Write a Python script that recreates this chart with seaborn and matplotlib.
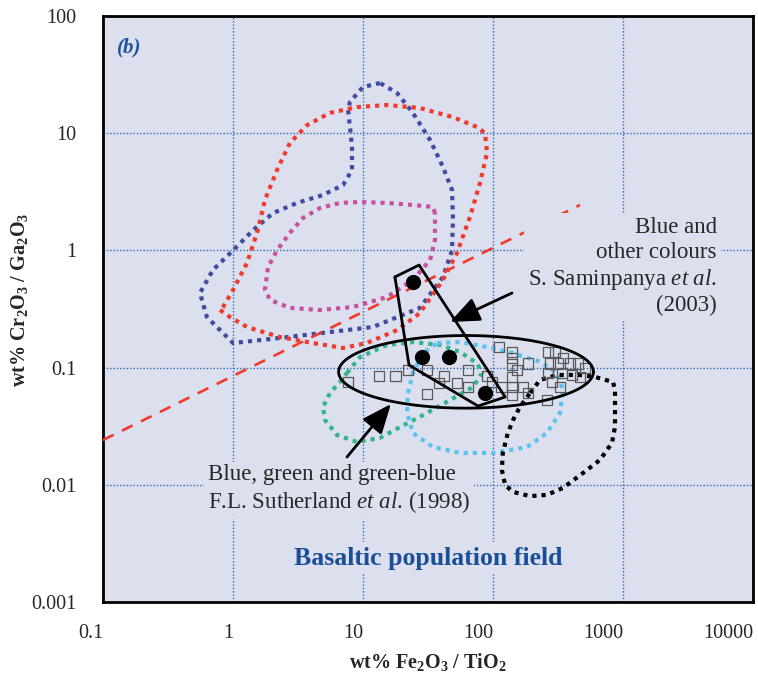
import numpy as np
import pandas as pd
import matplotlib
matplotlib.use("Agg")
import matplotlib.pyplot as plt
import seaborn as sns

# ---------------- data ----------------
x_ticks = [0.1, 1, 10, 100, 1000, 10000]
x_tick_labels = ["0.1", "1", "10", "100", "1000", "10000"]
y_ticks = [0.001, 0.01, 0.1, 1, 10, 100]
y_tick_labels = ["0.001", "0.01", "0.1", "1", "10", "100"]

blue_x = [13.5, 10, 7.94, 7.67, 7.94, 8.23, 8.23, 7.02, 4.92, 3.11, 2.03, 1.43, 1.0, 0.70,
          0.557, 0.63, 1.0, 2.30, 5.57, 11.9, 27.4, 41.2, 48.4, 49.2, 48.4, 41.2, 32.8, 24.2, 18.3]
blue_y = [26.8, 24.8, 18.5, 15.8, 11.3, 7.62, 4.85, 3.61, 2.97, 2.54, 2.08, 1.49, 1.0, 0.68,
          0.433, 0.27, 0.162, 0.179, 0.201, 0.222, 0.323, 0.593, 1.0, 1.82, 3.27, 5.15, 8.75, 14.9, 22.0]

red_x = [0.794, 0.948, 1.28, 2.30, 4.12, 7.02, 10.7, 18.3, 27.4, 41.2, 52.8, 66.5, 79.4, 89.9,
         86.8, 75.3, 49.2, 27.4, 15.3, 8.99, 5.57, 3.71, 2.74, 2.18, 1.76, 1.53, 1.28, 1.0, 0.838]
red_y = [0.310, 0.270, 0.222, 0.182, 0.162, 0.147, 0.162, 0.209, 0.292, 0.559, 0.95, 1.93, 3.76, 6.78,
         10.0, 11.3, 13.7, 16.4, 17.4, 16.7, 14.9, 11.7, 8.25, 4.85, 2.69, 1.41, 0.780, 0.459, 0.329]

pink_x = [35.8, 34.5, 24.2, 15.3, 9.48, 6.65, 4.67, 3.45, 2.74, 2.18, 1.86, 1.76, 1.93, 2.74,
          4.67, 8.38, 15.3, 24.2, 32.8, 35.8]
pink_y = [2.08, 2.35, 2.44, 2.54, 2.59, 2.54, 2.30, 1.89, 1.41, 1.0, 0.722, 0.459, 0.378, 0.323,
          0.310, 0.329, 0.400, 0.559, 0.828, 1.23]

green_x = [7.53, 9.48, 15.3, 24.2, 39.1, 55.7, 75.3, 82.3, 70.2, 46.7, 31.1, 19.3, 13.5, 8.99,
           6.31, 5.10, 4.92, 5.57, 6.65]
green_y = [0.090, 0.123, 0.156, 0.165, 0.156, 0.136, 0.109, 0.090, 0.0683, 0.0529, 0.0410, 0.0311,
           0.0251, 0.0232, 0.0266, 0.0357, 0.0461, 0.0607, 0.0753]

lightblue_x = [37.1, 55.7, 89.9, 142.6, 230, 310, 345, 328, 260, 182.7, 100, 55.7, 34.5, 24.2,
               21.8, 22.2, 24.2, 29.0]
lightblue_y = [0.162, 0.165, 0.150, 0.133, 0.112, 0.090, 0.0644, 0.0410, 0.0277, 0.0210, 0.0187,
               0.0187, 0.0210, 0.0277, 0.0410, 0.0607, 0.090, 0.133]

black_x = [193, 230, 310, 467, 609, 838, 868, 868, 868, 823, 665, 492, 345, 260, 193, 142.6,
           124, 117, 119, 130, 142.6, 161]
black_y = [0.0607, 0.0784, 0.0865, 0.0865, 0.0832, 0.0753, 0.0644, 0.0461, 0.0311, 0.0228, 0.0163,
           0.0126, 0.0094, 0.0082, 0.0080, 0.0087, 0.00995, 0.0134, 0.0187, 0.0277, 0.0357, 0.0461]

dashed_x = [0.1, 467]
dashed_y = [0.0241, 2.44]

polygon_x = [17.6, 27.0, 124, 76.7, 22.6]
polygon_y = [0.593, 0.750, 0.0561, 0.047, 0.105]

dots_x = [24.2, 28.4, 45.9, 86.8]
dots_y = [0.537, 0.123, 0.123, 0.0607]

squares_x = [7.67, 13.3, 17.9, 22.2, 31.1, 31.1, 38.4, 42.0, 52.8, 64.2, 64.2, 89.9, 98.2, 111,
             117, 140, 140, 140, 153, 140, 140, 140, 170, 186, 186, 265, 300, 345, 274, 316,
             391, 451, 510, 265, 340, 405, 284, 328, 260, 467]
squares_y = [0.0753, 0.0848, 0.0848, 0.0955, 0.0955, 0.0596, 0.0739, 0.0848, 0.0739, 0.0955,
             0.0683, 0.0848, 0.0753, 0.150, 0.0683, 0.136, 0.121, 0.107, 0.0955, 0.0832, 0.0683,
             0.0584, 0.0683, 0.109, 0.0607, 0.136, 0.136, 0.121, 0.109, 0.109, 0.109, 0.109,
             0.0993, 0.090, 0.090, 0.0865, 0.0753, 0.0683, 0.0529, 0.0832]

# Sutherland field ellipse (centre, half-axes in decades)
ellipse_cx, ellipse_cy = 62, 0.092
ellipse_ax_dec, ellipse_ay_dec = 0.98, 0.31

arrow1_tail, arrow1_tip = (140, 0.433), (46.7, 0.245)
arrow2_tail, arrow2_tip = (7.53, 0.01726), (16.4, 0.0489)

# ---------------- style ----------------
sns.set_style("white")
plt.rcParams['font.family'] = ['Liberation Serif', 'DejaVu Serif']
plt.rcParams['mathtext.fontset'] = 'custom'
plt.rcParams['mathtext.rm'] = 'Liberation Serif'
plt.rcParams['mathtext.it'] = 'Liberation Serif:italic'
plt.rcParams['mathtext.bf'] = 'Liberation Serif:bold'

BG = '#dcdfee'
GRID = '#2f68b8'

fig = plt.figure(figsize=(7.58, 6.8), dpi=100)
ax = fig.add_axes([0.1359, 0.1147, 0.8575, 0.8618])
ax.set_facecolor(BG)
ax.set_xscale('log')
ax.set_yscale('log')
ax.set_xlim(0.1, 10000)
ax.set_ylim(0.001, 100)


def closed(xs, ys):
    return pd.DataFrame({'x': list(xs) + [xs[0]], 'y': list(ys) + [ys[0]]})


dot_style = (0, (1, 1.2))
curves = [
    (pink_x, pink_y, '#c9509e'),
    (blue_x, blue_y, '#3f4ca0'),
    (red_x, red_y, '#f03a2e'),
    (green_x, green_y, '#33b48c'),
    (lightblue_x, lightblue_y, '#5cc3ee'),
    (black_x, black_y, '#000000'),
]
for xs, ys, col in curves:
    df = closed(xs, ys)
    sns.lineplot(data=df, x='x', y='y', sort=False, estimator=None, ax=ax, color=col,
                 lw=3.0, linestyle=dot_style, zorder=3)

sns.lineplot(x=dashed_x, y=dashed_y, sort=False, estimator=None, ax=ax, color='#f03a2e',
             lw=1.9, linestyle=(0, (4.5, 3.5)), zorder=4)

sns.scatterplot(x=squares_x, y=squares_y, ax=ax, marker='s', s=60, facecolors='none',
                edgecolor='#5a5a5a', linewidth=0.9, zorder=5)

t = np.linspace(0, 2 * np.pi, 300)
ell = pd.DataFrame({
    'x': 10 ** (np.log10(ellipse_cx) + ellipse_ax_dec * np.cos(t)),
    'y': 10 ** (np.log10(ellipse_cy) + ellipse_ay_dec * np.sin(t)),
})
sns.lineplot(data=ell, x='x', y='y', sort=False, estimator=None, ax=ax, color='black',
             lw=2.0, zorder=6)

poly = closed(polygon_x, polygon_y)
sns.lineplot(data=poly, x='x', y='y', sort=False, estimator=None, ax=ax, color='black',
             lw=2.0, zorder=6)

sns.scatterplot(x=dots_x, y=dots_y, ax=ax, color='black', s=120, edgecolor='black',
                linewidth=0, zorder=7)

for tail, tip in [(arrow1_tail, arrow1_tip), (arrow2_tail, arrow2_tip)]:
    ax.annotate('', xy=tip, xytext=tail,
                arrowprops=dict(arrowstyle='-|>,head_length=1.8,head_width=0.75',
                                color='black', lw=2.0, shrinkA=0, shrinkB=0,
                                mutation_scale=10), zorder=8)

# grid
ax.grid(True, which='major', color=GRID, lw=1.0, linestyle=(0, (1, 1.4)))
ax.set_axisbelow(True)
ax.minorticks_off()
ax.set_xticks(x_ticks)
ax.set_xticklabels(x_tick_labels)
ax.set_yticks(y_ticks)
ax.set_yticklabels(y_tick_labels)
ax.tick_params(axis='x', length=0, pad=16, labelsize=14.5)
ax.tick_params(axis='y', length=0, pad=19, labelsize=14.5)
for lab in ax.get_xticklabels():
    lab.set_ha('right')
for sp in ax.spines.values():
    sp.set_visible(True)
    sp.set_color('black')
    sp.set_linewidth(2.0)

ax.set_xlabel(r'wt% Fe$_\mathbf{2}$O$_\mathbf{3}$ / TiO$_\mathbf{2}$', fontsize=14.5,
              fontweight='bold')
ax.set_ylabel(r'wt% Cr$_\mathbf{2}$O$_\mathbf{3}$ / Ga$_\mathbf{2}$O$_\mathbf{3}$', fontsize=14.5,
              fontweight='bold')
ax.xaxis.set_label_coords(0.5, -0.083)
ax.yaxis.set_label_coords(-0.112, 0.515)

# texts
bb = dict(facecolor=BG, edgecolor='none', pad=3)
ax.text(0.0215, 0.947, '(b)', transform=ax.transAxes, ha='left', va='center',
        fontsize=15, fontweight='bold', fontstyle='italic', color='#1f53a0', zorder=9)
ax.text(0.9446, 0.572, 'Blue and\nother colours\nS. Saminpanya $\\mathit{et\\ al.}$\n(2003)',
        transform=ax.transAxes, ha='right', va='center', multialignment='right',
        fontsize=16.5, linespacing=1.22, bbox=bb, zorder=9)
ax.text(0.1615, 0.192, 'Blue, green and green-blue\nF.L. Sutherland $\\mathit{et\\ al.}\\,$(1998)',
        transform=ax.transAxes, ha='left', va='center', multialignment='left',
        fontsize=16.5, linespacing=1.22, bbox=bb, zorder=9)
ax.text(0.5, 0.075, 'Basaltic population field', transform=ax.transAxes, ha='center',
        va='center', fontsize=18.5, fontweight='bold', color='#1a4e96', bbox=bb, zorder=9)

fig.savefig('out.png', dpi=100, facecolor='white')
